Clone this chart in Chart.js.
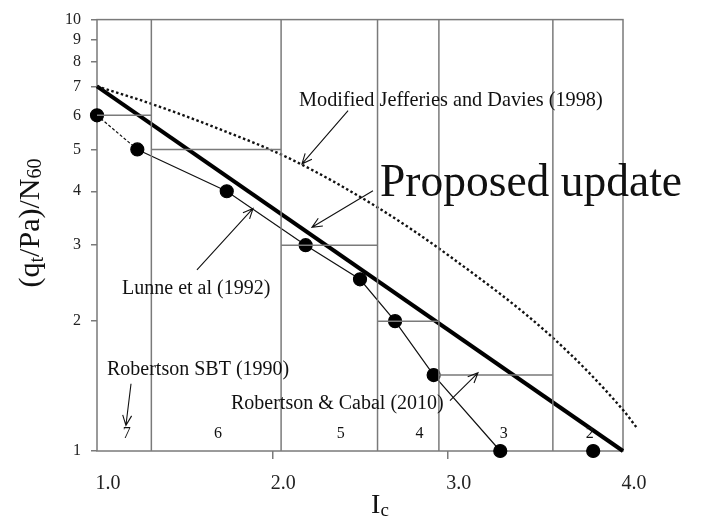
<!DOCTYPE html>
<html>
<head>
<meta charset="utf-8">
<script src="https://cdn.jsdelivr.net/npm/chart.js@4.4.0/dist/chart.umd.min.js"></script>
<style>
  body { margin: 0; background: #fff; }
</style>
</head>
<body>
<canvas id="ic-chart" width="701" height="519"></canvas>
<script>
// Lunne et al (1992) points
var lunneIc = [1.0, 1.23, 1.74, 2.19, 2.50, 2.70, 2.92, 3.30, 3.83];
var lunneRatio = [6, 5, 4, 3, 2.5, 2, 1.5, 1, 1];

// Proposed update (straight line on the log plot)
var proposedIc = [1.0, 4.0];
var proposedRatio = [7, 1];

// Modified Jefferies and Davies (1998)
var jdIc = [1.0, 1.3, 1.7, 2.1, 2.6, 3.0, 3.6, 4.0, 4.08];
var jdRatio = [7.0, 6.40, 5.57, 4.76, 3.67, 2.85, 1.83, 1.245, 1.13];

// Robertson SBT (1990) zones and Robertson & Cabal (2010) values
var zoneBounds = [1.0, 1.31, 2.05, 2.6, 2.95, 3.6, 4.0];
var zoneNames = ['7', '6', '5', '4', '3', '2'];
var zoneRatio = [6, 5, 3, 2, 1.5, 1];

var xTicks = [1, 2, 3, 4];
var yTicks = [1, 2, 3, 4, 5, 6, 7, 8, 9, 10];

var GRAY = '#7a7a7a';
var SERIF = "'Liberation Serif', 'Times New Roman', serif";
Chart.defaults.font.family = SERIF;
Chart.defaults.color = '#222';

function pts(xs, ys) {
    return xs.map(function (x, i) { return { x: x, y: ys[i] }; });
}

// vertical boundaries and horizontal zone values
var zoneLines = [];
zoneBounds.slice(1, -1).forEach(function (b) {
    zoneLines.push({ x: b, y: 1 }, { x: b, y: 10 }, { x: b, y: null });
});
var cabalLines = [];
zoneRatio.forEach(function (v, i) {
    if (v <= 1) return;
    cabalLines.push({ x: zoneBounds[i], y: v }, { x: zoneBounds[i + 1], y: v }, { x: zoneBounds[i + 1], y: null });
});

// text and arrows, placed in data units
var notes = [
    { text: 'Modified Jefferies and Davies (1998)', x: 2.152, y: 6.49, size: 20.3 },
    { text: 'Proposed update', x: 2.614, y: 3.91, size: 45.5, base: 'alphabetic' },
    { text: 'Lunne et al (1992)', x: 1.143, y: 2.38, size: 20 },
    { text: 'Robertson SBT (1990)', x: 1.057, y: 1.542, size: 20 },
    { text: 'Robertson & Cabal (2010)', x: 1.764, y: 1.288, size: 20 }
];
var arrows = [
    [2.432, 6.15, 2.169, 4.63],
    [2.574, 4.01, 2.226, 3.30],
    [1.570, 2.63, 1.890, 3.65],
    [1.194, 1.432, 1.165, 1.147],
    [3.013, 1.309, 3.173, 1.518]
];
var zoneLabelX = [1.17, 1.69, 2.39, 2.84, 3.32, 3.81];
var zoneLabelY = 1.094;

var annotate = {
    id: 'annotate',
    beforeDatasetsDraw: function (chart) {
        var a = chart.chartArea, c = chart.ctx;
        c.save();
        c.strokeStyle = GRAY;
        c.lineWidth = 1.5;
        c.strokeRect(a.left, a.top, a.right - a.left, a.bottom - a.top);
        c.restore();
    },
    afterDatasetsDraw: function (chart) {
        var c = chart.ctx, sx = chart.scales.x, sy = chart.scales.y;
        c.save();
        c.fillStyle = '#111';
        notes.forEach(function (n) {
            c.font = n.size + 'px ' + SERIF;
            c.textAlign = 'left';
            c.textBaseline = n.base || 'middle';
            c.fillText(n.text, sx.getPixelForValue(n.x), sy.getPixelForValue(n.y));
        });
        c.font = '16px ' + SERIF;
        c.textAlign = 'center';
        c.textBaseline = 'middle';
        zoneNames.forEach(function (z, i) {
            c.fillText(z, sx.getPixelForValue(zoneLabelX[i]), sy.getPixelForValue(zoneLabelY));
        });
        c.strokeStyle = '#111';
        c.lineWidth = 1.1;
        arrows.forEach(function (ar) {
            var x0 = sx.getPixelForValue(ar[0]), y0 = sy.getPixelForValue(ar[1]);
            var x1 = sx.getPixelForValue(ar[2]), y1 = sy.getPixelForValue(ar[3]);
            var ang = Math.atan2(y1 - y0, x1 - x0), h = 11, w = 0.42;
            c.beginPath();
            c.moveTo(x0, y0);
            c.lineTo(x1, y1);
            c.moveTo(x1 - h * Math.cos(ang - w), y1 - h * Math.sin(ang - w));
            c.lineTo(x1, y1);
            c.lineTo(x1 - h * Math.cos(ang + w), y1 - h * Math.sin(ang + w));
            c.stroke();
        });
        c.restore();
    },
    afterDraw: function (chart) {
        var c = chart.ctx, a = chart.chartArea;
        // pieces of text, some as subscripts
        function runs(parts, cx, cy) {
            var total = 0;
            parts.forEach(function (p) {
                c.font = p[1] + 'px ' + SERIF;
                total += c.measureText(p[0]).width;
            });
            var x = cx - total / 2;
            parts.forEach(function (p) {
                c.font = p[1] + 'px ' + SERIF;
                c.fillText(p[0], x, cy + p[2]);
                x += c.measureText(p[0]).width;
            });
        }
        c.save();
        c.fillStyle = '#111';
        c.textAlign = 'left';
        c.textBaseline = 'alphabetic';
        runs([['I', 28, 0], ['c', 19, 3]], (a.left + a.right) / 2 + 20, 513);
        c.translate(39, 223);
        c.rotate(-Math.PI / 2);
        runs([['(q', 30, 0], ['t', 20, 4], ['/Pa)/N', 30, 0], ['60', 20, 2]], 0, 0);
        c.restore();
    }
};

var ctx = document.getElementById('ic-chart').getContext('2d');
var chart = new Chart(ctx, {
    type: 'scatter',
    data: {
        datasets: [{
            data: zoneLines,
            showLine: true,
            borderColor: GRAY,
            borderWidth: 1.5,
            pointRadius: 0,
            spanGaps: false
        }, {
            data: cabalLines,
            showLine: true,
            borderColor: GRAY,
            borderWidth: 1.5,
            pointRadius: 0,
            spanGaps: false
        }, {
            data: pts(jdIc, jdRatio),
            showLine: true,
            borderColor: '#111',
            borderWidth: 2.4,
            borderDash: [2.5, 2.5],
            cubicInterpolationMode: 'monotone',
            pointRadius: 0,
            clip: false
        }, {
            data: pts(proposedIc, proposedRatio),
            showLine: true,
            borderColor: '#000',
            borderWidth: 4,
            pointRadius: 0,
            clip: false
        }, {
            data: pts(lunneIc, lunneRatio),
            showLine: true,
            borderColor: '#111',
            borderWidth: 1.2,
            backgroundColor: '#000',
            pointBackgroundColor: '#000',
            pointBorderColor: '#000',
            pointRadius: 6.5,
            clip: false,
            segment: {
                borderDash: function (s) { return s.p0DataIndex === 0 ? [3, 2] : undefined; },
                borderColor: function (s) { return s.p1DataIndex === lunneIc.length - 1 ? 'rgba(0,0,0,0)' : undefined; }
            }
        }]
    },
    options: {
        responsive: false,
        animation: false,
        layout: { padding: { top: 15, right: 78, left: 0, bottom: 0 } },
        plugins: {
            legend: { display: false },
            tooltip: { enabled: false }
        },
        scales: {
            x: {
                type: 'linear',
                bounds: 'data',
                afterDataLimits: function (s) { s.min = 1; s.max = 4; },
                afterBuildTicks: function (s) { s.ticks = xTicks.map(function (v) { return { value: v }; }); },
                afterFit: function (s) { s.height = 68; },
                border: { display: false },
                grid: {
                    drawOnChartArea: false,
                    tickLength: 8,
                    color: function (c) { return (c.tick && (c.tick.value === 2 || c.tick.value === 3)) ? GRAY : 'rgba(0,0,0,0)'; },
                    lineWidth: 1.5
                },
                ticks: {
                    font: { size: 20 },
                    padding: 13,
                    labelOffset: 11,
                    maxRotation: 0,
                    callback: function (v) { return v.toFixed(1); }
                }
            },
            y: {
                type: 'logarithmic',
                min: 1,
                max: 10,
                afterBuildTicks: function (s) { s.ticks = yTicks.map(function (v) { return { value: v }; }); },
                afterFit: function (s) { s.width = 97; },
                border: { display: false },
                grid: { drawOnChartArea: false, tickLength: 6, color: GRAY, lineWidth: 1.5 },
                ticks: {
                    font: { size: 16 },
                    padding: 10,
                    callback: function (v) { return String(v); }
                }
            }
        }
    },
    plugins: [annotate]
});
</script>
</body>
</html>
